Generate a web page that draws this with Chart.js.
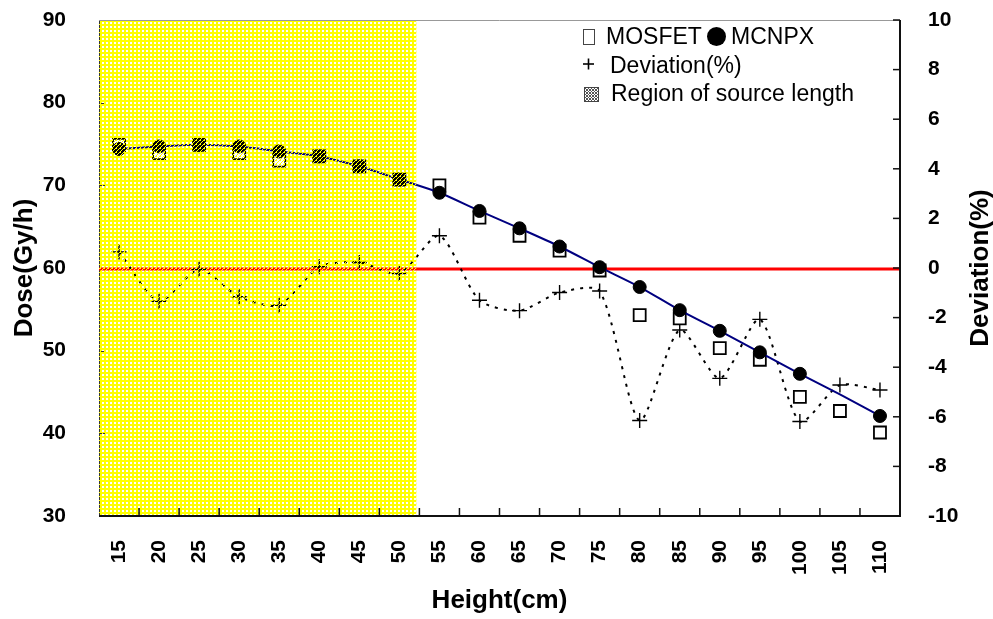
<!DOCTYPE html>
<html>
<head>
<meta charset="utf-8">
<script src="https://cdn.jsdelivr.net/npm/chart.js@4.4.1/dist/chart.umd.min.js"></script>
<style>
  html, body { margin: 0; padding: 0; background: #ffffff; }
  #wrap { width: 993px; height: 619px; }
</style>
</head>
<body>
<div id="wrap"><canvas id="c" width="993" height="619"></canvas></div>
<script>
const heights = ['15','20','25','30','35','40','45','50','55','60','65','70','75','80','85','90','95','100','105','110'];
const mosfet = [74.9,73.9,74.9,73.9,73.0,73.5,72.3,70.7,70.0,66.1,63.9,62.1,59.7,54.3,53.9,50.3,48.9,44.4,42.7,40.1];
const mcnpx = [74.4,74.7,74.9,74.7,74.1,73.5,72.3,70.7,69.1,66.9,64.8,62.6,60.1,57.7,54.9,52.4,49.8,47.2,44.7,42.1];
const deviation = [0.65,-1.34,-0.05,-1.16,-1.5,0.05,0.22,-0.22,1.3,-1.3,-1.72,-0.99,-0.93,-6.15,-2.5,-4.45,-2.07,-6.19,-4.72,-4.92];
const doseRange = [30, 90];
const devRange = [-10, 10];
const regionEndIndex = 7.42;
const legendRows = ['MOSFET', 'MCNPX', 'Deviation(%)', 'Region of source length'];
const titles = { x: 'Height(cm)', y: 'Dose(Gy/h)', y2: 'Deviation(%)' };

const FONT = '"Liberation Sans", Arial, Helvetica, sans-serif';

function makeTile(ctx, pixels, size) {
  const c = document.createElement('canvas');
  c.width = size; c.height = size;
  const p = c.getContext('2d');
  p.fillStyle = 'rgb(255,255,0)';
  pixels.forEach(([x, y]) => p.fillRect(x, y, 1, 1));
  return ctx.createPattern(c, 'repeat');
}
function basePattern(ctx) {
  const px = [];
  for (let x = 0; x < 4; x++) for (let y = 0; y < 4; y++) {
    if (x < 2 || y < 2) px.push([x, y]);
  }
  return makeTile(ctx, px, 4);
}
function overlayPattern(ctx) {
  return makeTile(ctx, [[0,0],[2,1],[1,2],[3,0],[0,3]], 4);
}

function seg(ctx, x1, y1, x2, y2) {
  ctx.beginPath(); ctx.moveTo(x1, y1); ctx.lineTo(x2, y2); ctx.stroke();
}

const decor = {
  id: 'decor',
  beforeDatasetsDraw(chart) {
    const { ctx, chartArea: a, scales } = chart;
    ctx.save();
    const xr = scales.x.getPixelForValue(regionEndIndex);
    ctx.fillStyle = basePattern(ctx);
    ctx.fillRect(a.left, a.top, xr - a.left, a.bottom - a.top - 1);
    ctx.strokeStyle = '#333333'; ctx.lineWidth = 1;
    seg(ctx, a.left + 0.5, a.top, a.left + 0.5, a.bottom);
    scales.y.ticks.forEach(t => {
      const y = Math.round(scales.y.getPixelForValue(t.value)) + 0.5;
      seg(ctx, a.left, y, a.left + 6, y);
    });
    const y0 = scales.y2.getPixelForValue(0) + 1;
    ctx.strokeStyle = '#ff0000'; ctx.lineWidth = 3;
    seg(ctx, a.left, y0, a.right, y0);
    ctx.restore();
  },
  afterDatasetsDraw(chart) {
    const { ctx, chartArea: a, scales } = chart;
    ctx.save();
    const xr = scales.x.getPixelForValue(regionEndIndex);
    ctx.fillStyle = overlayPattern(ctx);
    ctx.fillRect(a.left, a.top, xr - a.left, a.bottom - a.top - 1);
    ctx.strokeStyle = '#999999'; ctx.lineWidth = 1;
    seg(ctx, a.left, a.top + 0.5, a.right, a.top + 0.5);
    ctx.strokeStyle = '#111111'; ctx.lineWidth = 2;
    seg(ctx, a.left, a.bottom, a.right + 1, a.bottom);
    seg(ctx, a.right, a.top, a.right, a.bottom);
    ctx.lineWidth = 1.5;
    scales.y2.ticks.forEach(t => {
      const y = scales.y2.getPixelForValue(t.value);
      seg(ctx, a.right - 7, y, a.right, y);
    });
    for (let i = 0; i < heights.length - 1; i++) {
      const x = scales.x.getPixelForValue(i + 0.5);
      seg(ctx, x, a.bottom, x, a.bottom - 8);
    }
    ctx.restore();
  },
  afterDraw(chart) {
    const { ctx, chartArea: a } = chart;
    ctx.save();
    ctx.fillStyle = '#000';
    ctx.font = 'bold 26px ' + FONT;
    ctx.textAlign = 'center';
    ctx.textBaseline = 'middle';
    ctx.fillText(titles.x, (a.left + a.right) / 2, 601);
    ctx.save();
    ctx.translate(25, (a.top + a.bottom) / 2);
    ctx.rotate(-Math.PI / 2);
    ctx.fillText(titles.y, 0, 0);
    ctx.restore();
    ctx.save();
    ctx.translate(981, (a.top + a.bottom) / 2);
    ctx.rotate(-Math.PI / 2);
    ctx.fillText(titles.y2, 0, 0);
    ctx.restore();

    ctx.font = '23px ' + FONT;
    ctx.textAlign = 'left';
    ctx.textBaseline = 'alphabetic';
    ctx.strokeStyle = '#444'; ctx.lineWidth = 1;
    ctx.strokeRect(583.5, 29.5, 11, 15);
    ctx.fillText(legendRows[0], 606, 44);
    ctx.beginPath(); ctx.arc(716.5, 36.5, 9.5, 0, Math.PI * 2); ctx.fill();
    ctx.fillText(legendRows[1], 731, 44);
    ctx.strokeStyle = '#000'; ctx.lineWidth = 1.6;
    seg(ctx, 583, 64, 594, 64);
    seg(ctx, 588.5, 58.5, 588.5, 69.5);
    ctx.fillText(legendRows[2], 610, 73);
    ctx.save();
    ctx.beginPath(); ctx.rect(584, 87, 15, 15); ctx.clip();
    ctx.strokeStyle = '#555'; ctx.lineWidth = 1;
    for (let k = -15; k <= 15; k += 3) {
      seg(ctx, 584 + k, 87, 599 + k, 102);
      seg(ctx, 599 - k, 87, 584 - k, 102);
    }
    ctx.restore();
    ctx.strokeStyle = '#444'; ctx.lineWidth = 1;
    ctx.strokeRect(584.5, 87.5, 14, 14);
    ctx.fillText(legendRows[3], 611, 101);
    ctx.restore();
  }
};

const tickFont = { family: FONT, size: 21, weight: 'bold' };

new Chart(document.getElementById('c'), {
  type: 'line',
  data: {
    labels: heights,
    datasets: [
      {
        label: 'MCNPX',
        data: mcnpx,
        yAxisID: 'y',
        order: 0,
        borderColor: '#000080',
        borderWidth: 2,
        tension: 0.3,
        pointStyle: 'circle',
        pointRadius: heights.map((h, i) => i === 18 ? 0 : 6.5),
        pointBackgroundColor: '#000',
        pointBorderColor: '#000',
        pointBorderWidth: 1
      },
      {
        label: 'MOSFET',
        data: mosfet,
        yAxisID: 'y',
        order: 1,
        showLine: false,
        pointStyle: 'rect',
        pointRadius: 8.5,
        pointBackgroundColor: '#fff',
        pointBorderColor: '#000',
        pointBorderWidth: 1.8
      },
      {
        label: 'Deviation(%)',
        data: deviation,
        yAxisID: 'y2',
        order: 2,
        borderColor: '#000',
        borderWidth: 2,
        borderDash: [3, 6],
        tension: 0.25,
        pointStyle: 'cross',
        pointRadius: 7.5,
        pointBorderColor: '#000',
        pointBorderWidth: 1.4
      }
    ]
  },
  options: {
    responsive: false,
    devicePixelRatio: 1,
    animation: false,
    events: [],
    layout: { padding: { top: 20, left: 0, right: 0, bottom: 0 } },
    plugins: { legend: { display: false }, tooltip: { enabled: false } },
    scales: {
      x: {
        type: 'category',
        offset: true,
        grid: { display: false },
        border: { display: false },
        ticks: {
          font: tickFont, color: '#000',
          minRotation: 90, maxRotation: 90, autoSkip: false, padding: 16
        },
        afterFit(s) { s.height = 103; s.paddingLeft = 0; s.paddingRight = 0; }
      },
      y: {
        position: 'left',
        min: doseRange[0], max: doseRange[1],
        grid: { display: false },
        border: { display: false },
        ticks: { stepSize: 10, font: tickFont, color: '#000', padding: 25 },
        afterFit(s) { s.width = 99; s.paddingTop = 0; s.paddingBottom = 0; }
      },
      y2: {
        position: 'right',
        min: devRange[0], max: devRange[1],
        grid: { display: false },
        border: { display: false },
        ticks: { stepSize: 2, font: tickFont, color: '#000', padding: 20 },
        afterFit(s) { s.width = 93; s.paddingTop = 0; s.paddingBottom = 0; }
      }
    }
  },
  plugins: [decor]
});
</script>
</body>
</html>
